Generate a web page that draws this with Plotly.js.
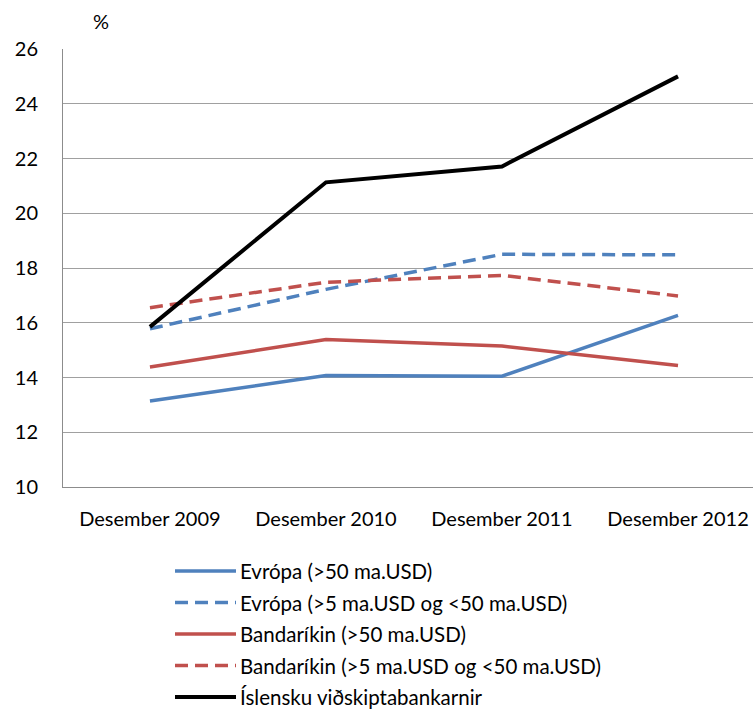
<!DOCTYPE html>
<html>
<head>
<meta charset="utf-8">
<script src="https://cdn.plot.ly/plotly-3.0.1.min.js"></script>
<style>html,body{margin:0;padding:0;background:#fff;}#chart{width:753px;height:710px;}</style>
</head>
<body>
<div id="chart"></div>
<script>
var categories = ["Desember 2009", "Desember 2010", "Desember 2011", "Desember 2012"];
var seriesNames = [
  "Evrópa (>50 ma.USD)",
  "Evrópa (>5 ma.USD og <50 ma.USD)",
  "Bandaríkin (>50 ma.USD)",
  "Bandaríkin (>5 ma.USD og <50 ma.USD)",
  "Íslensku viðskiptabankarnir"
];
var evropaLarge = [13.14, 14.07, 14.05, 16.27];
var evropaMid = [15.78, 17.22, 18.50, 18.48];
var usaLarge = [14.38, 15.39, 15.15, 14.44];
var usaMid = [16.55, 17.48, 17.73, 16.98];
var iceland = [15.85, 21.13, 21.71, 25.0];
var yTicks = [10, 12, 14, 16, 18, 20, 22, 24, 26];
var unitLabel = "%";

var colors = ["#4F81BD", "#4F81BD", "#C0504D", "#C0504D", "#000000"];
var dashes = ["solid", "13px,7px", "solid", "13px,7px", "solid"];
var widths = [3.5, 3.5, 3.5, 3.5, 4];
var values = [evropaLarge, evropaMid, usaLarge, usaMid, iceland];
var font = "Lato, 'Liberation Sans', sans-serif";

var traces = values.map(function (v, i) {
  return {
    type: "scatter", mode: "lines", x: categories, y: v, name: seriesNames[i],
    line: {color: colors[i], width: widths[i], dash: dashes[i]},
    showlegend: false, hoverinfo: "skip"
  };
});

// manual legend (Excel-style long keys); paper coords relative to plot area
var plotL = 63, plotW = 690, plotB = 487, plotH = 438;
function px(x) { return (x - plotL) / plotW; }
function py(y) { return (plotB - y) / plotH; }
var shapes = [], annotations = [];
var legTop = 571, legStep = 31.5;
seriesNames.forEach(function (n, i) {
  var yy = legTop + i * legStep;
  shapes.push({type: "line", xref: "paper", yref: "paper", x0: px(175), x1: px(236),
    y0: py(yy), y1: py(yy), line: {color: colors[i], width: widths[i], dash: dashes[i]}});
  annotations.push({xref: "paper", yref: "paper", x: px(238), y: py(yy), xanchor: "left", yanchor: "middle",
    text: n, showarrow: false, font: {family: font, size: 20.5, color: "#000"}});
});
annotations.push({xref: "paper", yref: "paper", x: px(101), y: py(21), xanchor: "center", yanchor: "middle",
  text: unitLabel, showarrow: false, font: {family: font, size: 20, color: "#000"}});

var layout = {
  width: 753, height: 710,
  margin: {l: 63, r: 0, t: 49, b: 223},
  paper_bgcolor: "#fff", plot_bgcolor: "#fff",
  font: {family: font, size: 20, color: "#000"},
  showlegend: false,
  xaxis: {
    type: "category", range: [-0.494, 3.426], showgrid: false, zeroline: false,
    showline: true, linecolor: "#8c8c8c", linewidth: 1, ticks: "", ticklabelstandoff: 14,
    tickfont: {family: font, size: 20, color: "#000"}, fixedrange: true
  },
  yaxis: {
    range: [10, 26], tickvals: yTicks, ticktext: yTicks.map(String),
    showgrid: true, gridcolor: "#a0a0a0", gridwidth: 1, zeroline: false,
    showline: true, linecolor: "#8c8c8c", linewidth: 1, ticks: "", ticklabelstandoff: 20,
    tickfont: {family: font, size: 20, color: "#000"}, fixedrange: true
  },
  shapes: shapes,
  annotations: annotations
};
Plotly.newPlot("chart", traces, layout, {displayModeBar: false, staticPlot: true});
</script>
</body>
</html>
